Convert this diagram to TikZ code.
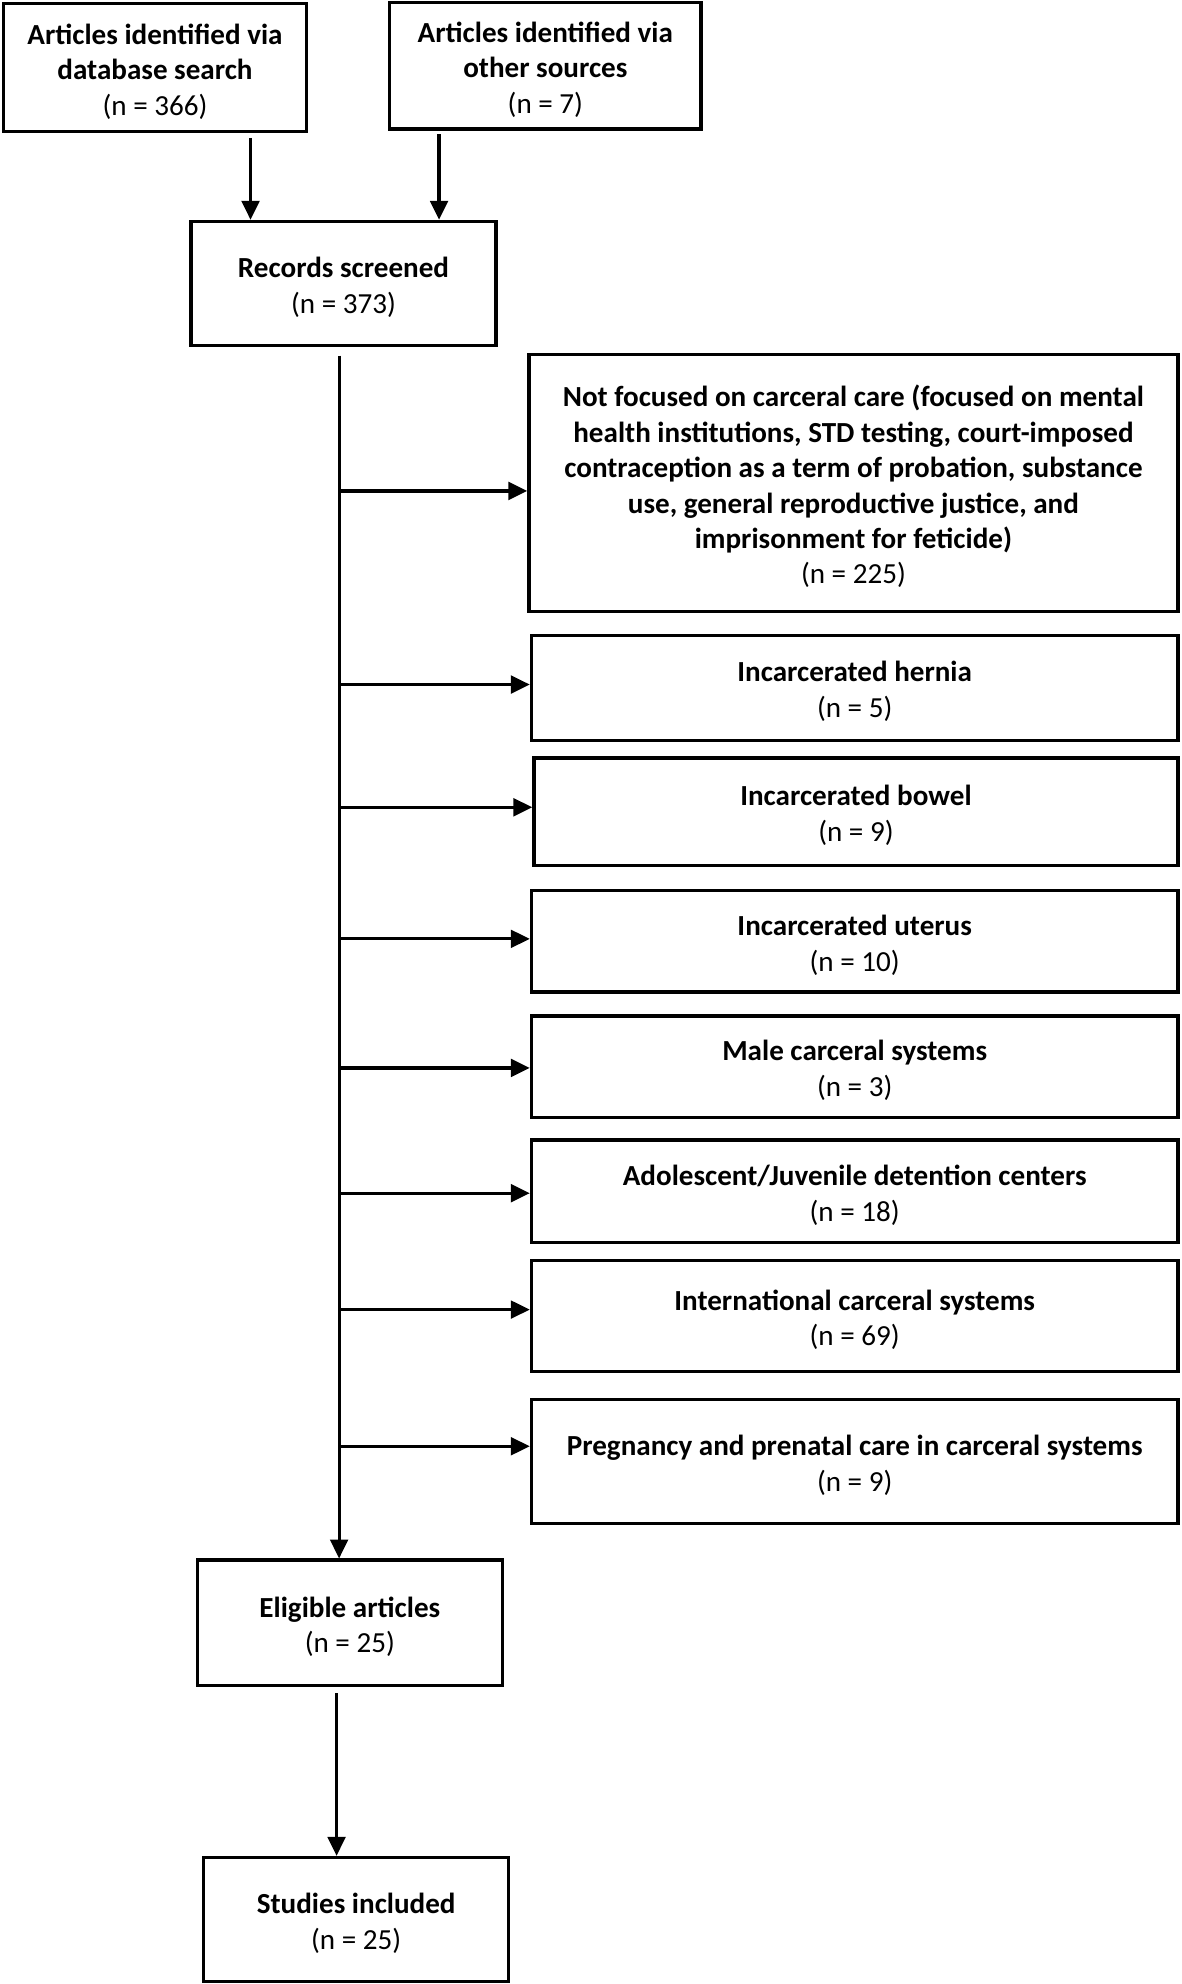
\documentclass[tikz,border=0pt]{standalone}
\usepackage{fontspec}
\setmainfont{Carlito}
\usetikzlibrary{arrows.meta,fit}
\tikzset{
  box/.style={draw=black, line width=1.3pt, inner sep=0pt},
  txt/.style={align=center, inner sep=0pt, yshift=-1.5pt,
    font=\fontsize{11.5}{14}\selectfont},
  arr/.style={draw=black, line width=1.25pt, -{Triangle[length=7.5pt,width=7pt]}}
}
\begin{document}
\begin{tikzpicture}[x=0.5pt,y=-0.5pt]
\useasboundingbox[fill=white] (0,0) rectangle (933.4,1568);
% top boxes
\node[box, fit={(3,3) (242,104)}, label={[txt]center:{\textbf{Articles identified via}\\\textbf{database search}\\(n = 366)}}] (A) {};
\node[box, fit={(308,2) (554,102)}, label={[txt]center:{\textbf{Articles identified via}\\\textbf{other sources}\\(n = 7)}}] (B) {};
\node[box, fit={(151,175) (392,273)}, label={[txt]center:{\textbf{Records screened}\\(n = 373)}}] (R) {};
% exclusion boxes
\node[box, fit={(418,280) (931,483)}, label={[txt]center:{\textbf{Not focused on carceral care (focused on mental}\\\textbf{health institutions, STD testing, court-imposed}\\\textbf{contraception as a term of probation, substance}\\\textbf{use, general reproductive justice, and}\\\textbf{imprisonment for feticide)}\\(n = 225)}}] (n1) {};
\node[box, fit={(420,502) (931,585)}, label={[txt]center:{\textbf{Incarcerated hernia}\\(n = 5)}}] (n2) {};
\node[box, fit={(422,599) (931,684)}, label={[txt]center:{\textbf{Incarcerated bowel}\\(n = 9)}}] (n3) {};
\node[box, fit={(420,704) (931,784)}, label={[txt]center:{\textbf{Incarcerated uterus}\\(n = 10)}}] (n4) {};
\node[box, fit={(420,803) (931,883)}, label={[txt]center:{\textbf{Male carceral systems}\\(n = 3)}}] (n5) {};
\node[box, fit={(420,901) (931,982)}, label={[txt]center:{\textbf{Adolescent/Juvenile detention centers}\\(n = 18)}}] (n6) {};
\node[box, fit={(420,996) (931,1084)}, label={[txt]center:{\textbf{International carceral systems}\\(n = 69)}}] (n7) {};
\node[box, fit={(420,1106) (931,1204)}, label={[txt]center:{\textbf{Pregnancy and prenatal care in carceral systems}\\(n = 9)}}] (n8) {};
% bottom boxes
\node[box, fit={(156,1233) (397,1332)}, label={[txt]center:{\textbf{Eligible articles}\\(n = 25)}}] (E) {};
\node[box, fit={(161,1468) (402,1566)}, label={[txt]center:{\textbf{Studies included}\\(n = 25)}}] (S) {};
% connectors
\coordinate (ax) at (198,109);
\coordinate (bx) at (347,106);
\draw[arr] (ax) -- (ax |- R.north);
\draw[arr] (bx) -- (bx |- R.north);
\coordinate (tr) at (268,281);
\draw[arr] (tr) -- (tr |- E.north);
\coordinate (b1) at (269,388);
\coordinate (b2) at (269,541);
\coordinate (b3) at (269,638);
\coordinate (b4) at (269,742);
\coordinate (b5) at (269,844);
\coordinate (b6) at (269,943);
\coordinate (b7) at (269,1035);
\coordinate (b8) at (269,1143);
\draw[arr] (b1) -- (b1 -| n1.west);
\draw[arr] (b2) -- (b2 -| n2.west);
\draw[arr] (b3) -- (b3 -| n3.west);
\draw[arr] (b4) -- (b4 -| n4.west);
\draw[arr] (b5) -- (b5 -| n5.west);
\draw[arr] (b6) -- (b6 -| n6.west);
\draw[arr] (b7) -- (b7 -| n7.west);
\draw[arr] (b8) -- (b8 -| n8.west);
\coordinate (es) at (266,1338);
\draw[arr] (es) -- (es |- S.north);
\end{tikzpicture}
\end{document}
